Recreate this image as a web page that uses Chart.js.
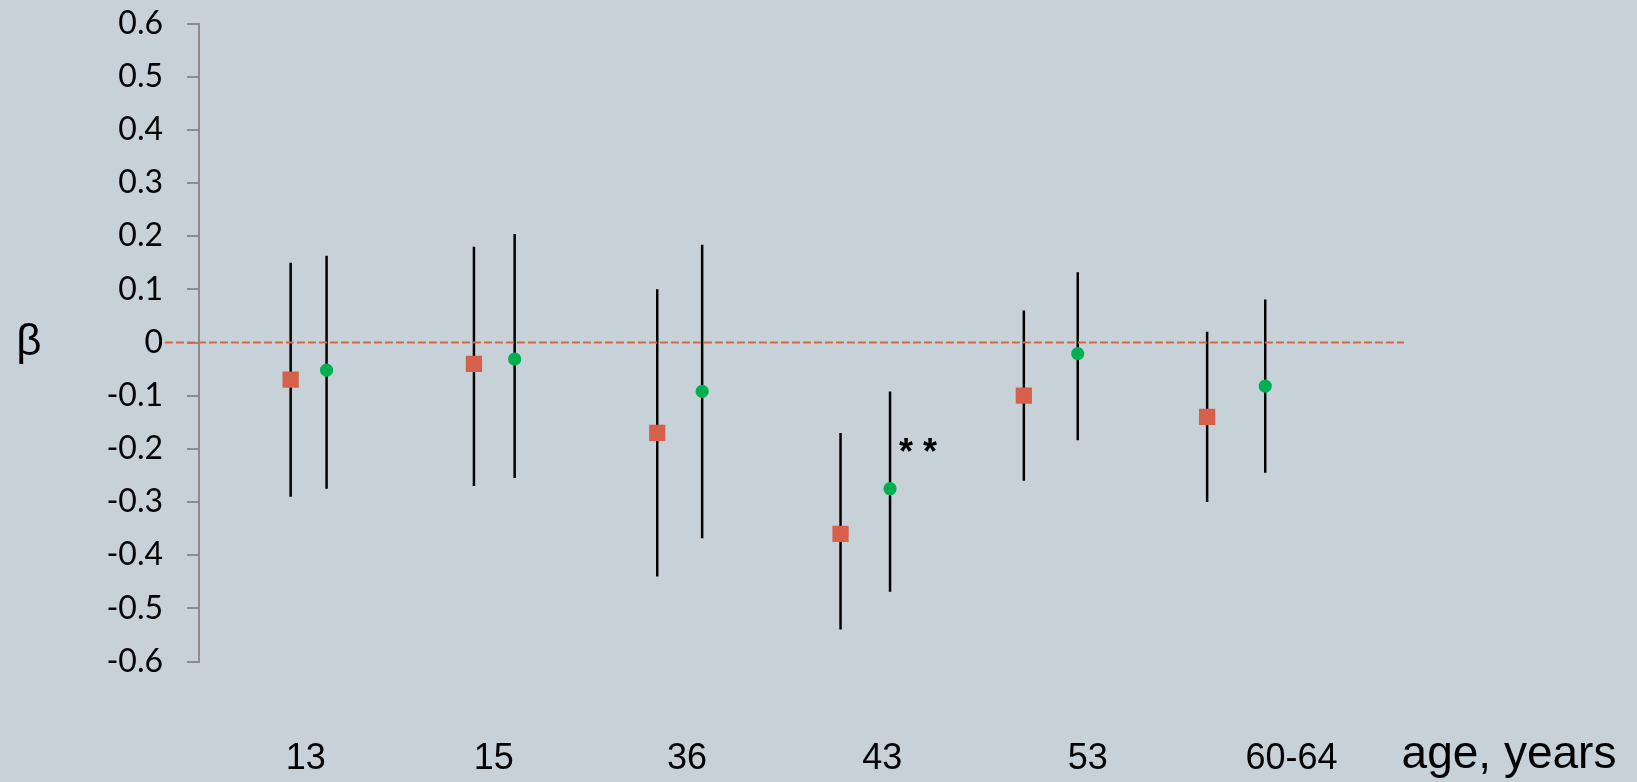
<!DOCTYPE html>
<html>
<head>
<meta charset="utf-8">
<script src="https://cdn.jsdelivr.net/npm/chart.js@4.4.1/dist/chart.umd.min.js"></script>
<style>
  html, body { margin: 0; padding: 0; background: #c6d2d8; }
  canvas { display: block; }
</style>
</head>
<body>
<canvas id="c" width="1637" height="782"></canvas>
<script>
// Age groups and where their labels sit on the x scale
const ageLabels = ['13', '15', '36', '43', '53', '60-64'];
const ageLabelPos = [1.083, 2.108, 3.162, 4.227, 5.349, 6.46];

// Series 1 (squares): estimate and 95% interval
const sqX    = [1, 2, 3, 4, 5, 6];
const sqBeta = [-0.07, -0.04, -0.17, -0.36, -0.10, -0.14];
const sqLow  = [-0.29, -0.27, -0.44, -0.54, -0.26, -0.30];
const sqHigh = [0.15, 0.18, 0.10, -0.17, 0.06, 0.02];

// Series 2 (circles): estimate and 95% interval
const ciX    = [1.196, 2.222, 3.245, 4.27, 5.294, 6.317];
const ciBeta = [-0.052, -0.031, -0.092, -0.275, -0.021, -0.082];
const ciLow  = [-0.275, -0.255, -0.368, -0.469, -0.184, -0.245];
const ciHigh = [0.163, 0.204, 0.184, -0.092, 0.132, 0.081];

// y axis ticks
const yTickValues = [-0.6, -0.5, -0.4, -0.3, -0.2, -0.1, 0, 0.1, 0.2, 0.3, 0.4, 0.5, 0.6];

// reference line at beta = 0 and its x extent
const refY = 0;
const refFrom = 0.314;
const refTo = 7.074;

// significance mark
const sigMarks = [{ text: '* *', x: 4.422, y: -0.228 }];

const X_MIN = 0.5, X_MAX = 7.074;

function points(xs, ys) { return xs.map((x, i) => ({ x: x, y: ys[i] })); }
function whiskers(xs, lo, hi) {
  const pts = [];
  xs.forEach((x, i) => { pts.push({ x: x, y: lo[i] }, { x: x, y: hi[i] }, { x: x, y: null }); });
  return pts;
}

const textPlugin = {
  id: 'texts',
  afterDatasetsDraw(chart) {
    const ctx = chart.ctx;
    const xs = chart.scales.x, ys = chart.scales.y;
    ctx.save();
    ctx.fillStyle = '#000';
    // category labels under the plot
    ctx.font = '36px "Liberation Sans", Arial, sans-serif';
    ctx.textAlign = 'center';
    ctx.textBaseline = 'alphabetic';
    ageLabels.forEach((t, i) => ctx.fillText(t, xs.getPixelForValue(ageLabelPos[i]), 769));
    // x axis title
    ctx.font = '46px "Liberation Sans", Arial, sans-serif';
    ctx.fillText('age, years', 1509, 768);
    // y axis title
    ctx.font = '44px "Liberation Sans", Arial, sans-serif';
    ctx.textBaseline = 'middle';
    ctx.fillText('β', 29, ys.getPixelForValue(0));
    // significance marks
    ctx.font = 'bold 36px "Liberation Sans", Arial, sans-serif';
    ctx.textBaseline = 'alphabetic';
    sigMarks.forEach(m => ctx.fillText(m.text, xs.getPixelForValue(m.x), ys.getPixelForValue(m.y)));
    ctx.restore();
  }
};

new Chart(document.getElementById('c'), {
  type: 'scatter',
  data: {
    datasets: [
      {
        label: 'squares',
        data: points(sqX, sqBeta),
        pointStyle: 'rect',
        pointRadius: 11.5,
        backgroundColor: '#d6604a',
        borderColor: '#d6604a',
        borderWidth: 0
      },
      {
        label: 'circles',
        data: points(ciX, ciBeta),
        pointStyle: 'circle',
        pointRadius: 6.6,
        backgroundColor: '#00b050',
        borderColor: '#00b050',
        borderWidth: 0
      },
      {
        label: 'zero',
        data: [{ x: refFrom, y: refY }, { x: refTo, y: refY }],
        showLine: true,
        pointRadius: 0,
        borderColor: '#d9644c',
        borderWidth: 2.2,
        borderDash: [8, 3],
        clip: false
      },
      {
        label: 'sq-ci',
        data: whiskers(sqX, sqLow, sqHigh),
        showLine: true,
        spanGaps: false,
        pointRadius: 0,
        borderColor: '#000',
        borderWidth: 2.5
      },
      {
        label: 'ci-ci',
        data: whiskers(ciX, ciLow, ciHigh),
        showLine: true,
        spanGaps: false,
        pointRadius: 0,
        borderColor: '#000',
        borderWidth: 2.5
      }
    ]
  },
  options: {
    responsive: false,
    animation: false,
    events: [],
    layout: { padding: { left: 0, top: 23.5, right: 233, bottom: 120.5 } },
    plugins: { legend: { display: false }, tooltip: { enabled: false } },
    scales: {
      x: {
        type: 'linear',
        min: X_MIN,
        max: X_MAX,
        display: false
      },
      y: {
        type: 'linear',
        min: -0.6,
        max: 0.6,
        afterFit(scale) { scale.width = 199; scale.paddingTop = 0; scale.paddingBottom = 0; },
        afterBuildTicks(scale) { scale.ticks = yTickValues.map(v => ({ value: v })); },
        border: { display: true, color: '#8c8c8c', width: 2 },
        grid: { display: true, drawOnChartArea: false, drawTicks: true, tickLength: 12, color: '#8c8c8c', lineWidth: 2 },
        ticks: {
          padding: 24,
          color: '#000',
          font: { family: 'Lato, "Open Sans", sans-serif', size: 32 },
          callback: v => String(Math.round(v * 10) / 10)
        }
      }
    }
  },
  plugins: [textPlugin]
});
</script>
</body>
</html>
